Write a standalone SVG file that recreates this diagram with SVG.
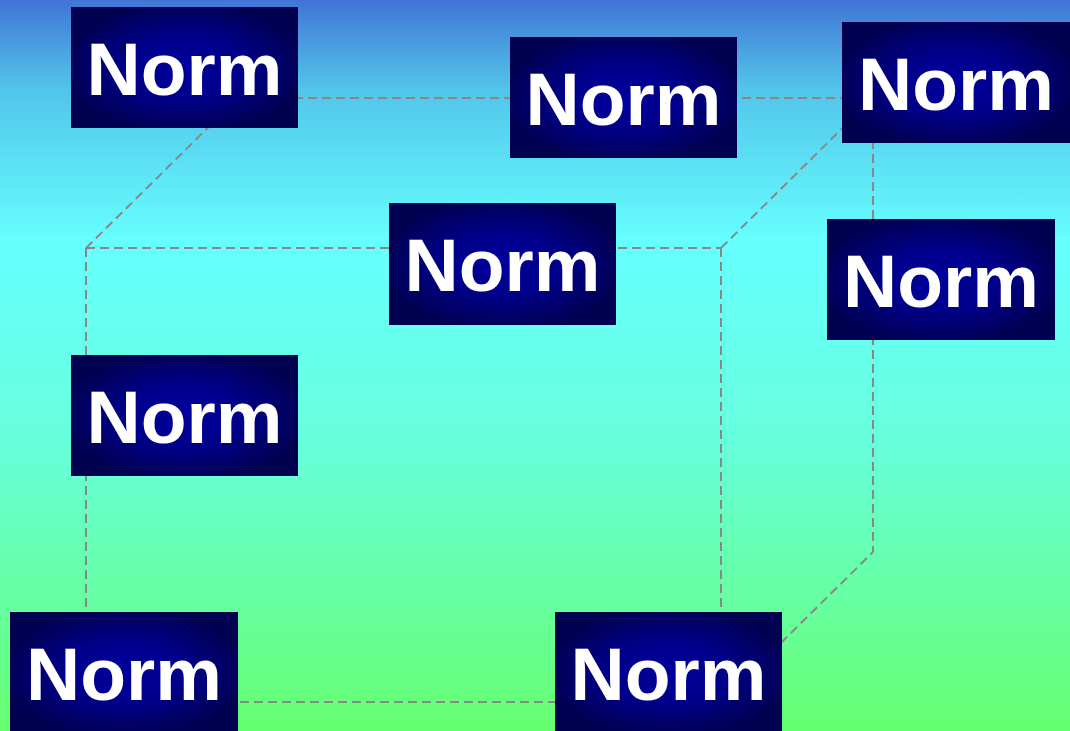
<svg xmlns="http://www.w3.org/2000/svg" width="1070" height="731" viewBox="0 0 1070 731">
<defs>
<linearGradient id="bg" x1="0" y1="0" x2="0" y2="1">
<stop offset="0" stop-color="#4174d6"/>
<stop offset="0.12" stop-color="#52c4ea"/>
<stop offset="0.33" stop-color="#66ffff"/>
<stop offset="0.6" stop-color="#66ffdd"/>
<stop offset="1" stop-color="#66ff70"/>
</linearGradient>
<radialGradient id="ng" cx="0.5" cy="0.5" r="0.55">
<stop offset="0" stop-color="#00009c"/>
<stop offset="0.45" stop-color="#00008c"/>
<stop offset="1" stop-color="#000050"/>
</radialGradient>
<style>
.edge{fill:none;stroke:#888888;stroke-width:2;stroke-dasharray:9 5}
.box{fill:url(#ng)}
.lbl{font-weight:bold;font-size:75px;fill:#ffffff;text-anchor:middle}
</style>
</defs>
<rect width="1070" height="731" fill="url(#bg)"/>
<g id="connectors">
<line class="edge" x1="238" y1="98" x2="873" y2="98"/>
<line class="edge" x1="86" y1="248" x2="238" y2="98"/>
<line class="edge" x1="86" y1="248" x2="721" y2="248"/>
<line class="edge" x1="721" y1="248" x2="873" y2="98"/>
<line class="edge" x1="873" y1="98" x2="873" y2="552"/>
<line class="edge" x1="721" y1="248" x2="721" y2="702"/>
<line class="edge" x1="86" y1="248" x2="86" y2="702"/>
<line class="edge" x1="86" y1="702" x2="721" y2="702"/>
<line class="edge" x1="721" y1="702" x2="873" y2="552"/>
</g>
<g font-family="'Liberation Sans', Arial, Helvetica, sans-serif">
<g id="node1"><rect class="box" x="71" y="7" width="227" height="121"/><text class="lbl" x="184.5" y="95">Norm</text></g>
<g id="node2"><rect class="box" x="510" y="37" width="227" height="121"/><text class="lbl" x="623.5" y="125">Norm</text></g>
<g id="node3"><rect class="box" x="842" y="22" width="228" height="121"/><text class="lbl" x="956" y="110">Norm</text></g>
<g id="node4"><rect class="box" x="389" y="203" width="227" height="122"/><text class="lbl" x="502.5" y="291">Norm</text></g>
<g id="node5"><rect class="box" x="827" y="219" width="228" height="121"/><text class="lbl" x="941" y="307">Norm</text></g>
<g id="node6"><rect class="box" x="71" y="355" width="227" height="121"/><text class="lbl" x="184.5" y="443">Norm</text></g>
<g id="node7"><rect class="box" x="10" y="612" width="228" height="121"/><text class="lbl" x="124" y="700">Norm</text></g>
<g id="node8"><rect class="box" x="555" y="612" width="227" height="121"/><text class="lbl" x="668.5" y="700">Norm</text></g>
</g>
</svg>
